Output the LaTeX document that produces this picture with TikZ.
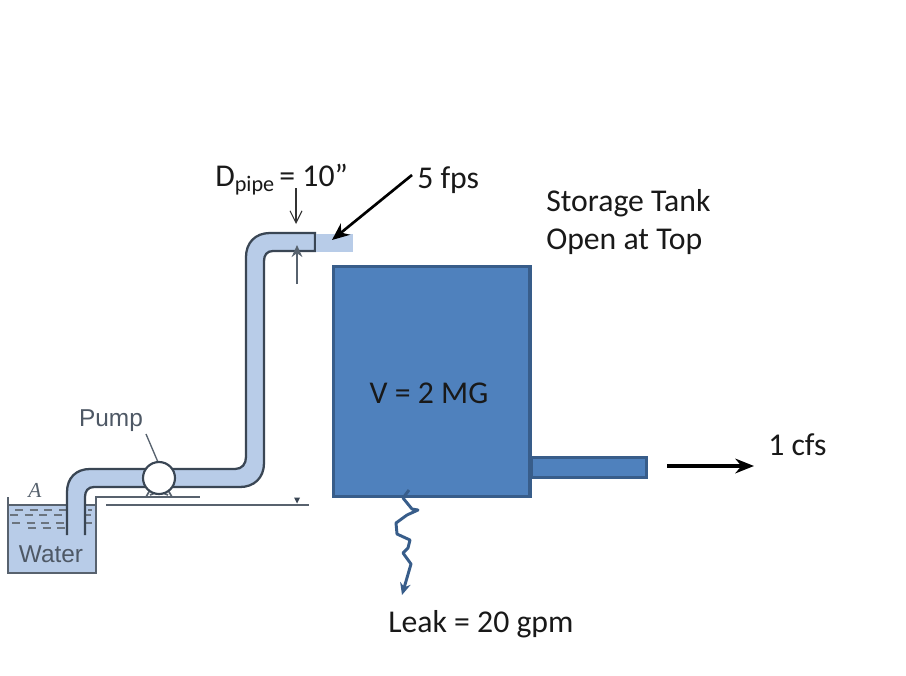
\documentclass[tikz,border=0pt]{standalone}
\usepackage{fontspec}
\setmainfont{Carlito}
\newfontfamily\figfont{Liberation Sans}
\newfontfamily\figserif{Liberation Serif}
\usetikzlibrary{arrows.meta}
\definecolor{tankblue}{HTML}{4F81BD}
\definecolor{tankedge}{HTML}{385D8A}
\definecolor{pipeblue}{HTML}{B8CCE8}
\definecolor{pipeedge}{HTML}{3A4654}
\tikzset{
  lab/.style={font=\fontsize{23.8}{26}\selectfont, text=black!90, inner sep=0pt, anchor=west},
  figlab/.style={font=\figfont\fontsize{18.3}{20}\selectfont, text=pipeedge!90, inner sep=0pt},
  pipeline/.style={draw=pipeedge, line width=1.7pt},
  thinline/.style={draw=pipeedge!85, line width=1.3pt},
  boxshape/.style={draw=tankedge, fill=tankblue, line width=2.6pt, inner sep=0pt, anchor=north west},
  boldarrow/.style={draw=black, line width=2.6pt, -{Stealth[length=14pt,width=11pt]}},
}
\begin{document}
\begin{tikzpicture}[x=0.75pt,y=-0.75pt]
\useasboundingbox (0,0) rectangle (906,675);
\fill[white] (0,0) rectangle (906,675);
% reservoir
\fill[pipeblue] (8,505) rectangle (96,573);
\draw[thinline] (8,497) -- (8,573) -- (96,573) -- (96,497) -- (200,497);
\draw[thinline] (8,505) -- (96,505);
\draw[thinline] (106,505) -- (309,505);
\fill[pipeedge] (294,497.5) -- (300,497.5) -- (297,503.5) -- cycle;
\foreach \y/\a/\b in {510/15/92,515/10/92,523/12/92,528/28/66}{
  \draw[pipeedge!75, line width=0.8pt, dash pattern=on 6pt off 5pt] (\a,\y) -- (\b,\y);
}
% pipe
\fill[pipeblue] (67,535) -- (67,492) .. controls (67,478) and (76,469) .. (90,469) -- (235,469)
  .. controls (242,469) and (246,464) .. (246,457) -- (246,257) .. controls (246,243) and (255,233) .. (270,233)
  -- (315,233) -- (315,251) -- (273,251) .. controls (267,251) and (264,255) .. (264,261)
  -- (264,463) .. controls (264,478) and (254,487) .. (240,487) -- (94,487)
  .. controls (88,487) and (85,491) .. (85,497) -- (85,535) -- cycle;
\draw[pipeline] (67,535) -- (67,492) .. controls (67,478) and (76,469) .. (90,469) -- (235,469)
  .. controls (242,469) and (246,464) .. (246,457) -- (246,257) .. controls (246,243) and (255,233) .. (270,233)
  -- (315,233) -- (315,251) -- (273,251) .. controls (267,251) and (264,255) .. (264,261)
  -- (264,463) .. controls (264,478) and (254,487) .. (240,487) -- (94,487)
  .. controls (88,487) and (85,491) .. (85,497) -- (85,535);
% jet
\fill[pipeblue] (316,234) rectangle (353,252);
% pump
\draw[thinline] (146,497) -- (150,490);
\draw[thinline] (172,497) -- (168,490);
\draw[thinline] (150,495) .. controls (155,492) and (163,492) .. (168,495);
\node[circle, draw=pipeedge, fill=white, line width=1.6pt, minimum size=24pt, inner sep=0pt] (pump) at (159,478) {};
\node[figlab] (pumplab) at (111,421) {Pump};
\coordinate (pumptick) at (146,434);
\draw[pipeedge!85, line width=1pt] (pumptick) -- (pump.95);
\node[figlab] (water) at (51,554) {Water};
\node[font=\figserif\itshape\fontsize{16}{18}\selectfont, text=pipeedge!85, inner sep=0pt] (pointA) at (35,490) {A};
% tank
\node[boxshape, minimum width=147.5pt, minimum height=172.5pt] (tank) at (331.5,264.5) {};
\node[boxshape, minimum width=86.5pt, minimum height=15pt] (outlet) at (529.5,455.5) {};
\node[lab, anchor=center] (vol) at (429,393) {V = 2 MG};
% labels
\node[lab] (dia) at (215,180) {D\textsubscript{pipe}\kern-2pt{} = 10”};
\node[lab] (fps) at (417,180) {5 fps};
\node[lab] (st1) at (546,203) {Storage Tank};
\node[lab] (st2) at (546,242) {Open at Top};
\node[lab] (cfs) at (768,445) {1 cfs};
\node[lab] (leak) at (388,624) {Leak = 20 gpm};
% arrows
\coordinate (d1) at (296,188); \coordinate (d2) at (296,224);
\draw[black!80, line width=0.8pt, -{Straight Barb[length=9pt,width=9pt]}] (d1) -- (d2);
\coordinate (u1) at (297,284); \coordinate (u2) at (297,245);
\draw[pipeedge!85, line width=1.2pt, -{Stealth[length=9pt,width=8pt]}] (u1) -- (u2);
\coordinate (f1) at (412,175); \coordinate (f2) at (332,240);
\draw[draw=black, line width=2pt, -{Stealth[length=13pt,width=11pt]}] (f1) -- (f2);
\coordinate (o1) at (667,466); \coordinate (o2) at (754,466);
\draw[boldarrow] (o1) -- (o2);
% leak
\draw[draw=tankedge, line width=2.2pt, line join=round, -{Stealth[length=9pt,width=8pt]}]
  (409,490) -- (403,498) -- (412,509) -- (418,510) -- (407,515) -- (396,523) -- (397,534) -- (410,540) -- (408,548) -- (403,553) -- (411,564) -- (402,595);
\end{tikzpicture}
\end{document}
